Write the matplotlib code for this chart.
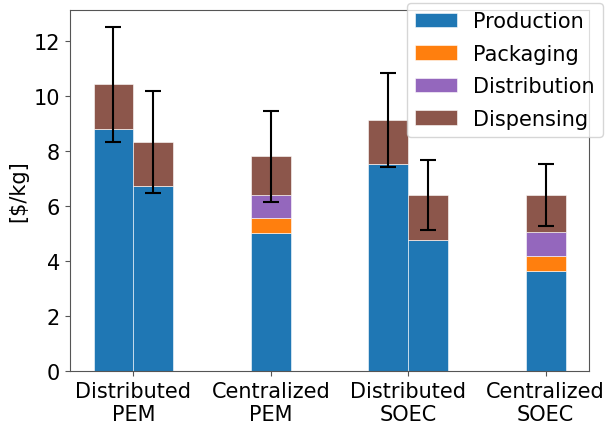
import matplotlib
matplotlib.use("Agg")
import matplotlib.pyplot as plt
import numpy as np

# Cost breakdown of hydrogen delivery pathways [$ / kg]
categories = ["Distributed\nPEM", "Centralized\nPEM", "Distributed\nSOEC", "Centralized\nSOEC"]
components = ["Production", "Packaging", "Distribution", "Dispensing"]
colors = ["#1f77b4", "#ff7f0e", "#9467bd", "#8c564b"]

# one entry per bar: category index and side offset (-1 left, 0 centred, +1 right)
bar_category = [0, 0, 1, 2, 2, 3]
bar_side = [-1, 1, 0, -1, 1, 0]

production = [8.80, 6.74, 5.01, 7.52, 4.77, 3.65]
packaging = [0.00, 0.00, 0.55, 0.00, 0.00, 0.53]
distribution = [0.00, 0.00, 0.85, 0.00, 0.00, 0.86]
dispensing = [1.63, 1.60, 1.40, 1.62, 1.63, 1.37]
uncertainty = [2.08, 1.86, 1.67, 1.70, 1.27, 1.12]

width = 0.29

fig = plt.figure(figsize=(6.08, 4.27), dpi=100)
ax = fig.add_axes([0.115, 0.129, 0.854, 0.845])

x = np.array(bar_category, dtype=float) + np.array(bar_side) * width / 2
stack = [production, packaging, distribution, dispensing]
bottom = np.zeros(len(x))
for name, vals, col in zip(components, stack, colors):
    vals = np.array(vals)
    ax.bar(x, vals, width, bottom=bottom, color=col, label=name,
           edgecolor="white", linewidth=0.4)
    bottom += vals

ax.errorbar(x, bottom, yerr=uncertainty, fmt="none", ecolor="black",
            elinewidth=1.5, capsize=6, capthick=1.5)

ax.set_xticks(range(len(categories)))
ax.set_xticklabels(categories, fontsize=15)
ax.set_yticks([0, 2, 4, 6, 8, 10, 12])
ax.tick_params(axis="y", labelsize=15)
ax.set_ylabel("[$/kg]", fontsize=15)

for sp in ax.spines.values():
    sp.set_color("#555555")
ax.tick_params(color="#555555")

ax.legend(loc="upper right", bbox_to_anchor=(0.992, 0.991),
          bbox_transform=fig.transFigure, borderaxespad=0, fontsize=15,
          labelspacing=0.6)

fig.savefig("out.png", dpi=100)
